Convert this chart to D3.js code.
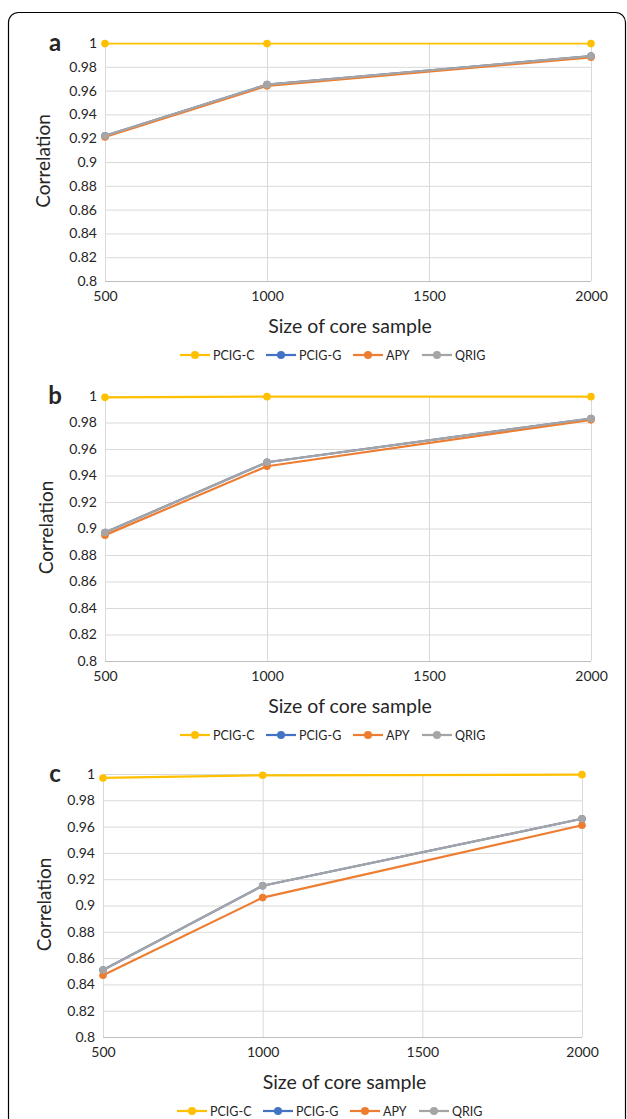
<!DOCTYPE html>
<html>
<head>
<meta charset="utf-8">
<script src="https://cdn.jsdelivr.net/npm/d3@7"></script>
<style>
  html, body { margin: 0; padding: 0; background: #fff; }
  svg { display: block; }
  text { font-family: Lato, "Open Sans", "Liberation Sans", sans-serif; fill: #262626; }
</style>
</head>
<body>
<svg id="chart" width="627" height="1119"></svg>
<script>
// ---- data ----
const sampleSizes = [500, 1000, 2000];
const xTicks = [500, 1000, 1500, 2000];
const yTicks = [0.8, 0.82, 0.84, 0.86, 0.88, 0.9, 0.92, 0.94, 0.96, 0.98, 1];
const seriesNames = ["PCIG-C", "PCIG-G", "APY", "QRIG"];
const seriesColors = ["#FFC000", "#4472C4", "#ED7D31", "#A5A5A5"];
const panelLabels = ["a", "b", "c"];

const aPcigC = [0.9995, 0.9995, 0.9995];
const aPcigG = [0.922, 0.965, 0.989];
const aApy   = [0.921, 0.964, 0.988];
const aQrig  = [0.922, 0.965, 0.989];

const bPcigC = [0.999, 0.9995, 0.9995];
const bPcigG = [0.897, 0.950, 0.983];
const bApy   = [0.895, 0.947, 0.982];
const bQrig  = [0.897, 0.950, 0.983];

const cPcigC = [0.997, 0.999, 0.9995];
const cPcigG = [0.851, 0.915, 0.966];
const cApy   = [0.847, 0.906, 0.961];
const cQrig  = [0.851, 0.915, 0.966];

const panelData = [
  [aPcigC, aPcigG, aApy, aQrig],
  [bPcigC, bPcigG, bApy, bQrig],
  [cPcigC, cPcigG, cApy, cQrig]
];

// ---- layout ----
const layouts = [
  { left: 105, right: 591, top: 43,  bottom: 281,  ylab: 42, legendX: 180 },
  { left: 105, right: 591, top: 396, bottom: 661,  ylab: 45, legendX: 180 },
  { left: 103, right: 582, top: 774, bottom: 1037, ylab: 43, legendX: 177 }
];

const svg = d3.select("#chart");

// outer rounded frame
svg.append("rect")
  .attr("x", 8.5).attr("y", 12.5)
  .attr("width", 617).attr("height", 1130)
  .attr("rx", 10).attr("ry", 10)
  .attr("fill", "none").attr("stroke", "#000").attr("stroke-width", 1.2);

panelData.forEach((series, pi) => {
  const L = layouts[pi];
  const g = svg.append("g");
  const x = d3.scaleLinear().domain([500, 2000]).range([L.left, L.right]);
  const y = d3.scaleLinear().domain([0.8, 1]).range([L.bottom, L.top]);

  // horizontal gridlines
  const yAxis = d3.axisLeft(y).tickValues(yTicks).tickSize(-(L.right - L.left)).tickPadding(8)
    .tickFormat(d => d3.format("")(+d.toFixed(2)));
  const ya = g.append("g").attr("transform", `translate(${L.left},0)`).call(yAxis);
  ya.select(".domain").remove();
  ya.selectAll(".tick line").attr("stroke", "#D9D9D9").attr("stroke-width", 1);
  ya.selectAll(".tick text").attr("font-size", 14).attr("fill", "#262626");

  // vertical gridlines + x labels
  const xAxis = d3.axisBottom(x).tickValues(xTicks).tickSize(-(L.bottom - L.top)).tickPadding(10)
    .tickFormat(d3.format("d"));
  const xa = g.append("g").attr("transform", `translate(0,${L.bottom})`).call(xAxis);
  xa.select(".domain").remove();
  xa.selectAll(".tick line").attr("stroke", "#D9D9D9").attr("stroke-width", 1);
  xa.selectAll(".tick text").attr("font-size", 14).attr("fill", "#262626");

  // axis baseline
  g.append("line").attr("x1", L.left).attr("x2", L.right)
    .attr("y1", L.bottom + 0.5).attr("y2", L.bottom + 0.5)
    .attr("stroke", "#BFBFBF").attr("stroke-width", 1.2);
  g.append("line").attr("x1", L.left + 0.5).attr("x2", L.left + 0.5)
    .attr("y1", L.top).attr("y2", L.bottom)
    .attr("stroke", "#D9D9D9").attr("stroke-width", 1);

  // series
  const line = d3.line().x((d, i) => x(sampleSizes[i])).y(d => y(d));
  series.forEach((vals, si) => {
    g.append("path").datum(vals)
      .attr("d", line)
      .attr("fill", "none")
      .attr("stroke", seriesColors[si])
      .attr("stroke-width", (si === 0 && pi === 0) ? 1.6 : 2.2)
      .attr("stroke-linejoin", "round");
    g.selectAll(null).data(vals).enter().append("circle")
      .attr("cx", (d, i) => x(sampleSizes[i]))
      .attr("cy", d => y(d))
      .attr("r", 3.8)
      .attr("fill", seriesColors[si]);
  });

  // panel label
  g.append("text").attr("x", 55).attr("y", L.top + 8)
    .attr("text-anchor", "middle")
    .attr("font-size", 24).attr("font-weight", "bold").attr("fill", "#000")
    .attr("font-family", "'Liberation Sans', Arial, sans-serif")
    .text(panelLabels[pi]);

  // y title
  const ymid = (L.top + L.bottom) / 2;
  g.append("text")
    .attr("transform", `translate(${L.ylab},${ymid - 1}) rotate(-90)`)
    .attr("text-anchor", "middle").attr("dominant-baseline", "central")
    .attr("font-size", 19).attr("fill", "#262626")
    .text("Correlation");

  // x title
  g.append("text")
    .attr("x", (L.left + L.right) / 2 + 2).attr("y", L.bottom + 52)
    .attr("text-anchor", "middle")
    .attr("font-size", 19.5).attr("fill", "#262626")
    .text("Size of core sample");

  // legend
  const legY = L.bottom + 74;
  const offsets = [0, 86, 173, 242];
  seriesNames.forEach((name, si) => {
    const lx = L.legendX + offsets[si];
    const lg = g.append("g").attr("transform", `translate(${lx},${legY})`);
    lg.append("line").attr("x1", 0).attr("x2", 30).attr("y1", 0).attr("y2", 0)
      .attr("stroke", seriesColors[si]).attr("stroke-width", 2.2);
    lg.append("circle").attr("cx", 15).attr("cy", 0).attr("r", 4).attr("fill", seriesColors[si]);
    lg.append("text").attr("x", 33).attr("y", 0).attr("dominant-baseline", "central")
      .attr("font-size", 12.5).attr("fill", "#262626").text(name);
  });
});
</script>
</body>
</html>
